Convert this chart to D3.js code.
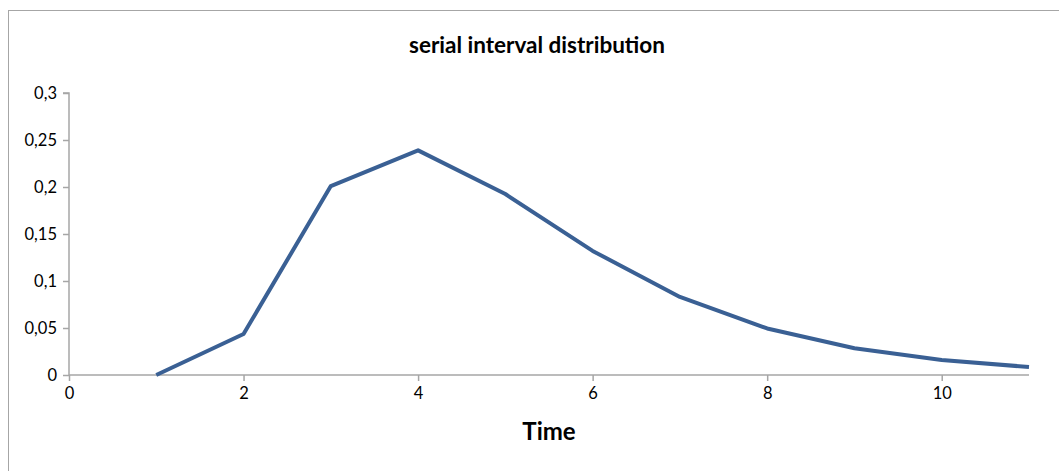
<!DOCTYPE html>
<html>
<head>
<meta charset="utf-8">
<script src="https://cdn.jsdelivr.net/npm/d3@7"></script>
<style>
  body { margin: 0; background: #fff; }
  svg { display: block; }
</style>
</head>
<body>
<script>
var w = 1059;
var h = 471;

// serial interval values
var days = [1, 2, 3, 4, 5, 6, 7, 8, 9, 10, 11];
var probs = [0, 0.0436, 0.201, 0.239, 0.1925, 0.132, 0.083, 0.0495, 0.0285, 0.016, 0.0085];
var xTicks = [0, 2, 4, 6, 8, 10];
var yTicks = [0, 0.05, 0.1, 0.15, 0.2, 0.25, 0.3];

var x = d3.scaleLinear().domain([0, 11]).range([69, 1029]);
var y = d3.scaleLinear().domain([0, 0.3]).range([375, 93]);

var fmt = function (d) { return String(+d.toFixed(2)).replace(".", ","); };

var svg = d3.select("body")
    .append("svg")
    .attr("width", w)
    .attr("height", h);

// chart frame (cropped on the right and bottom)
svg.append("rect")
    .attr("x", 8.5)
    .attr("y", 10.5)
    .attr("width", 1100)
    .attr("height", 500)
    .attr("fill", "white")
    .attr("stroke", "#a6a6a6")
    .attr("stroke-width", 1);

svg.append("text")
    .attr("x", 537)
    .attr("y", 53)
    .attr("text-anchor", "middle")
    .style("font-family", "Lato, 'Open Sans', sans-serif")
    .style("font-weight", "bold")
    .style("font-size", "22.5px")
    .text("serial interval distribution");

// y axis
var yAxis = svg.append("g")
    .attr("transform", "translate(" + x(0) + ",0)")
    .call(d3.axisLeft(y).tickValues(yTicks).tickFormat(fmt).tickSize(6).tickPadding(6));

// x axis
var xAxis = svg.append("g")
    .attr("transform", "translate(0," + y(0) + ")")
    .call(d3.axisBottom(x).tickValues(xTicks).tickFormat(d3.format("d")).tickSize(6).tickPadding(6));

[yAxis, xAxis].forEach(function (g) {
    g.select(".domain").attr("stroke", "#a6a6a6").attr("stroke-width", 1.5);
    g.selectAll(".tick line").attr("stroke", "#a6a6a6").attr("stroke-width", 1.5);
    g.selectAll(".tick text")
        .attr("fill", "#000")
        .style("font-family", "Lato, 'Open Sans', sans-serif")
        .style("font-size", "16.5px");
});
// remove the outer end ticks so the axes look like Excel's
yAxis.select(".domain").attr("d", "M-6," + y(0.3) + "H0V" + y(0));
xAxis.select(".domain").attr("d", "M" + x(0) + ",0H" + x(11));

svg.append("text")
    .attr("x", 549)
    .attr("y", 440)
    .attr("text-anchor", "middle")
    .style("font-family", "Lato, 'Open Sans', sans-serif")
    .style("font-weight", "bold")
    .style("font-size", "24px")
    .text("Time");

var line = d3.line()
    .x(function (d, i) { return x(days[i]); })
    .y(function (d) { return y(d); });

svg.append("path")
    .datum(probs)
    .attr("fill", "none")
    .attr("stroke", "#3a6094")
    .attr("stroke-width", 4)
    .attr("stroke-linejoin", "round")
    .attr("d", line);
</script>
</body>
</html>
